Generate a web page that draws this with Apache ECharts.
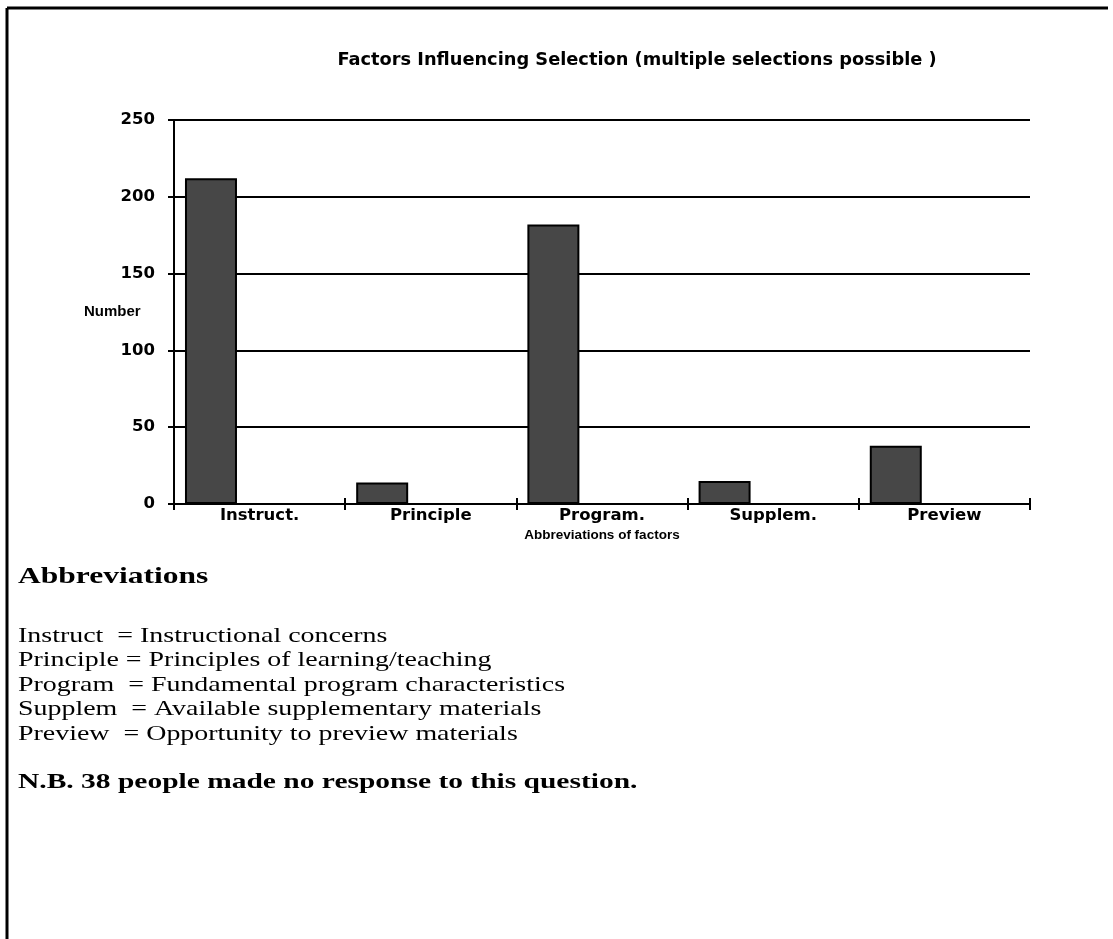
<!DOCTYPE html>
<html>
<head>
<meta charset="utf-8">
<script src="https://cdn.jsdelivr.net/npm/echarts@6/dist/echarts.min.js"></script>
<style>
html,body{margin:0;padding:0;background:#fff;}
#chart{width:1113px;height:939px;}
</style>
</head>
<body>
<div id="chart"></div>
<script>
var categories = ['Instruct.', 'Principle', 'Program.', 'Supplem.', 'Preview'];
var counts = [212, 14, 182, 15, 38];
var yTicks = [0, 50, 100, 150, 200, 250];
var titleText = 'Factors Influencing Selection (multiple selections possible )';
var yAxisTitle = 'Number';
var xAxisTitle = 'Abbreviations of factors';
var notesHeading = 'Abbreviations';
var noteLines = [
  'Instruct  = Instructional concerns',
  'Principle = Principles of learning/teaching',
  'Program  = Fundamental program characteristics',
  'Supplem  = Available supplementary materials',
  'Preview  = Opportunity to preview materials'
];
var footnote = 'N.B. 38 people made no response to this question.';

var chart = echarts.init(document.getElementById('chart'), null, {renderer: 'canvas'});
var sans = 'Liberation Sans, Arial, sans-serif';
var wide = 'DejaVu Sans, Verdana, sans-serif';
var serif = 'Liberation Serif, Times New Roman, serif';

var graphics = [
  {type: 'line', shape: {x1: 7, y1: 8, x2: 1108, y2: 8}, style: {stroke: '#000', lineWidth: 3}},
  {type: 'line', shape: {x1: 7, y1: 8, x2: 7, y2: 939}, style: {stroke: '#000', lineWidth: 3}},
  {type: 'text', x: 84, y: 312, style: {text: yAxisTitle, font: 'bold 15px ' + sans, fill: '#000', verticalAlign: 'middle'}},
  {type: 'text', x: 18, y: 577, scaleX: 1.37, style: {text: notesHeading, font: 'bold 23px ' + serif, fill: '#000', verticalAlign: 'middle'}}
];
noteLines.forEach(function (t, i) {
  graphics.push({type: 'text', x: 18, y: 636 + i * 24.5, scaleX: 1.33,
    style: {text: t, font: '21px ' + serif, fill: '#000', verticalAlign: 'middle'}});
});
graphics.push({type: 'text', x: 18, y: 782, scaleX: 1.34,
  style: {text: footnote, font: 'bold 22px ' + serif, fill: '#000', verticalAlign: 'middle'}});

chart.setOption({
  animation: false,
  backgroundColor: '#fff',
  title: {
    text: titleText,
    left: 632, top: 46, textAlign: 'center',
    textStyle: {fontFamily: wide, fontWeight: 'bold', fontSize: 17.8, color: '#000'}
  },
  grid: {left: 174, right: 83, top: 120, bottom: 435, containLabel: false},
  xAxis: [{
    type: 'category',
    data: categories,
    name: xAxisTitle,
    nameLocation: 'middle',
    nameGap: 24,
    nameTextStyle: {fontFamily: sans, fontWeight: 'bold', fontSize: 13.5, color: '#000'},
    axisLine: {lineStyle: {color: '#000', width: 2}},
    axisTick: {show: true, length: 6, lineStyle: {color: '#000', width: 2}},
    axisLabel: {fontFamily: wide, fontWeight: 'bold', fontSize: 16.5, color: '#000', margin: 3},
    splitLine: {show: false}
  }, {
    type: 'category',
    data: categories,
    position: 'bottom',
    axisLine: {show: false},
    axisTick: {show: true, inside: true, length: 6, lineStyle: {color: '#000', width: 2}},
    axisLabel: {show: false},
    splitLine: {show: false}
  }],
  yAxis: {
    type: 'value',
    min: 0, max: 250, interval: 50,
    axisLine: {show: true, lineStyle: {color: '#000', width: 2}},
    axisTick: {show: true, length: 6, lineStyle: {color: '#000', width: 2}},
    axisLabel: {fontFamily: wide, fontWeight: 'bold', fontSize: 16.5, color: '#000', margin: 19,
      formatter: function (v) { return yTicks.indexOf(v) >= 0 ? String(v) : ''; }},
    splitLine: {show: true, lineStyle: {color: '#000', width: 2}}
  },
  series: [
    {
      type: 'bar',
      data: counts,
      barWidth: 52,
      barGap: '87%',
      itemStyle: {color: '#474747', borderColor: '#000', borderWidth: 2}
    },
    {
      type: 'bar',
      data: counts.map(function () { return null; }),
      barWidth: 52
    }
  ],
  graphic: graphics
});
</script>
</body>
</html>
